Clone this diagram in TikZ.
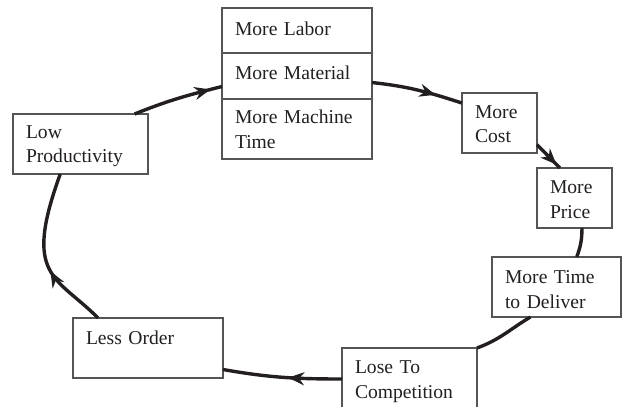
\documentclass[tikz,border=0pt]{standalone}
\usepackage{fontspec}
\setmainfont{Liberation Serif}
\usetikzlibrary{positioning,arrows.meta,decorations.markings}
\definecolor{ink}{RGB}{35,31,32}
\definecolor{boxgray}{RGB}{85,85,85}
\tikzset{
  box/.style={draw=boxgray, line width=0.6pt, inner xsep=6.5pt, inner ysep=0pt, outer sep=0pt,
    align=left, text height=12.5pt, font=\fontsize{9.8}{12.5}\selectfont, text=ink},
  flow/.style={draw=ink, line width=1.7pt},
  flowtip/.style={postaction={decorate}, decoration={markings,
    mark=at position #1 with {\arrow[ink]{Stealth[length=8pt,width=6.5pt]}}}}
}
\begin{document}
\begin{tikzpicture}[x=0.5pt,y=0.5pt]
\useasboundingbox (0,0) rectangle (622,-407);

% Resources stack
\node[box, anchor=north west, text width=62pt, text height=13.5pt, text depth=9pt] (labor) at (222,-8) {More Labor};
\node[box, below=0pt of labor, text width=62pt, text height=13pt, text depth=10pt] (material) {More Material};
\node[box, below=0pt of material, text width=62pt, text height=12pt, text depth=18pt] (machine) {More Machine\\Time};

% Loop boxes
\node[box, anchor=north west, text width=54.5pt, text height=12pt, text depth=18pt] (lowprod) at (13,-114) {Low\\Productivity};
\node[box, anchor=north west, text width=24.5pt, text depth=17.5pt] (cost) at (462,-93) {More\\Cost};
\node[box, anchor=north west, text width=24.5pt, text depth=17.5pt] (price) at (537,-168) {More\\Price};
\node[box, anchor=north west, text width=51.5pt, text height=13pt, text depth=17pt] (deliver) at (492,-257) {More Time\\to Deliver};
\node[box, anchor=north west, text width=54.5pt, text depth=18.5pt] (lose) at (342,-348) {Lose To\\Competition};
\node[box, anchor=north west, text width=62pt, text height=13pt, text depth=17pt] (less) at (73,-318) {Less Order};

% Connectors
\draw[flow, flowtip=0.87] (lowprod.29) to[out=22, in=194] (material.188);
\draw[flow, flowtip=0.7] (material.-5) to[out=-6, in=162] (cost.152);
\draw[flow, flowtip=0.85] (cost.-30) -- (price.116);
\draw[flow] (price.-76) to[out=-90, in=70] (deliver.56);
\draw[flow] (deliver.229) to[out=211, in=20] (lose.north east);
\draw[flow, flowtip=0.45] (lose.west) to[out=180, in=-10] (less.-16);
\draw[flow, flowtip=0.4] (less.149) .. controls +(135:60) and +(-110:110) .. (lowprod.236);

\end{tikzpicture}
\end{document}
